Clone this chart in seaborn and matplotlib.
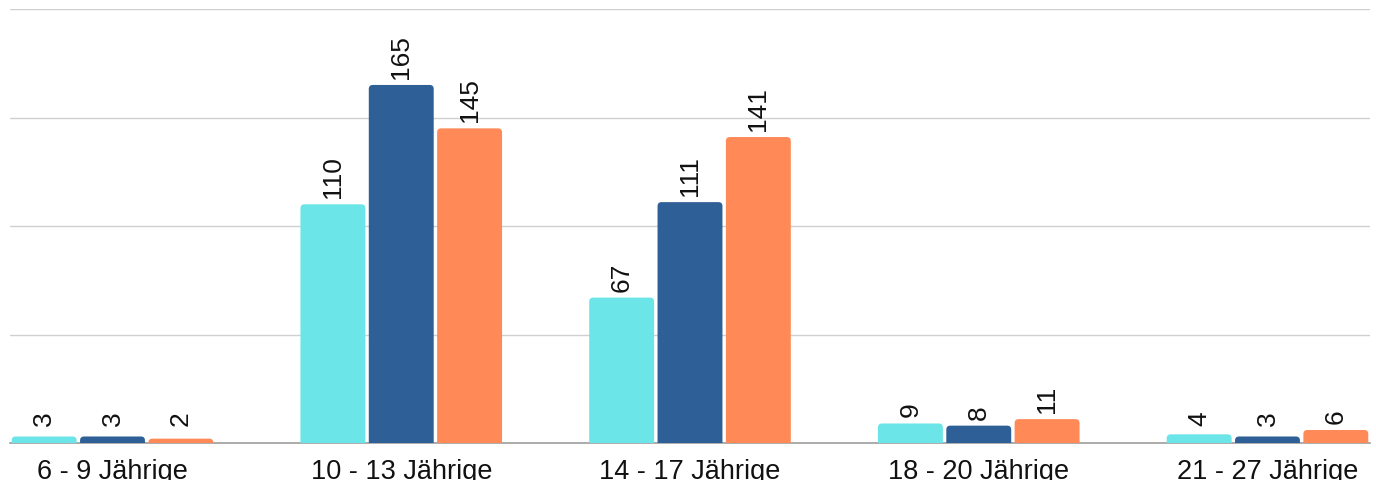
import matplotlib
matplotlib.use("Agg")
import pandas as pd
import seaborn as sns
import matplotlib.pyplot as plt
from matplotlib.patches import FancyBboxPatch

# Daten
CATEGORIES = ['6 - 9 Jährige', '10 - 13 Jährige', '14 - 17 Jährige',
              '18 - 20 Jährige', '21 - 27 Jährige']
SERIES = ['Reihe 1', 'Reihe 2', 'Reihe 3']
VALUES_1 = [3, 110, 67, 9, 4]
VALUES_2 = [3, 165, 111, 8, 3]
VALUES_3 = [2, 145, 141, 11, 6]
COLORS = ['#6be5e8', '#2e5f97', '#ff8957']


def build_frame():
    rows = []
    for name, vals in zip(SERIES, [VALUES_1, VALUES_2, VALUES_3]):
        for cat, v in zip(CATEGORIES, vals):
            rows.append({'Gruppe': cat, 'Reihe': name, 'Anzahl': v})
    return pd.DataFrame(rows)


def px_per_unit(ax):
    ax.figure.canvas.draw()
    bbox = ax.get_window_extent()
    x0, x1 = ax.get_xlim()
    y0, y1 = ax.get_ylim()
    return bbox.width / (x1 - x0), bbox.height / (y1 - y0)


def add_labels(ax, min_px=18, gap_px=7):
    # Werte senkrecht über den Balken, bei sehr kleinen Balken etwas höher
    _, px_y = px_per_unit(ax)
    dpi = ax.figure.dpi
    for cont in ax.containers:
        for rect in cont:
            h = rect.get_height()
            gap = max(gap_px, min_px - h * px_y)
            ax.annotate(f'{h:g}', (rect.get_x() + rect.get_width() / 2, h),
                        xytext=(0, gap * 72 / dpi), textcoords='offset points',
                        rotation=90, ha='center', va='bottom',
                        fontsize=19, color='#111111')


def round_bars(ax, radius_px=4):
    px_x, px_y = px_per_unit(ax)
    r = radius_px / px_x
    aspect = px_x / px_y
    for cont in ax.containers:
        for rect in cont:
            x, w, h = rect.get_x(), rect.get_width(), rect.get_height()
            fb = FancyBboxPatch((x, -3), w, h + 3,
                                boxstyle=f"round,pad=0,rounding_size={r}",
                                mutation_aspect=aspect,
                                fc=rect.get_facecolor(), ec='none', zorder=2)
            ax.add_patch(fb)
            rect.set_visible(False)


def main():
    df = build_frame()
    sns.set_style('white')
    plt.rcParams['font.family'] = ['Liberation Sans', 'DejaVu Sans']

    fig = plt.figure(figsize=(13.76, 4.81), dpi=100)
    ax = fig.add_axes([10 / 1376, 37 / 481, 1360 / 1376, 434 / 481])

    sns.barplot(data=df, x='Gruppe', y='Anzahl', hue='Reihe', order=CATEGORIES,
                hue_order=SERIES, palette=COLORS, saturation=1, width=0.71,
                gap=0.05, legend=False, ax=ax, zorder=2)

    ax.set_xlim(-0.355, 4.355)
    ax.set_ylim(0, 200)
    ax.set_yticks([0, 50, 100, 150, 200])
    ax.set_yticklabels([])
    ax.yaxis.grid(True, color='#d0d0d0', linewidth=1, zorder=0)
    ax.set_axisbelow(True)
    ax.tick_params(axis='both', length=0)
    ax.tick_params(axis='x', labelsize=19.5, pad=11, colors='#111111')
    ax.set_xlabel('')
    ax.set_ylabel('')
    for side in ['top', 'left', 'right']:
        ax.spines[side].set_visible(False)
    ax.spines['bottom'].set_color('#9e9e9e')
    ax.spines['bottom'].set_linewidth(1.2)
    ax.spines['bottom'].set_zorder(1.5)

    add_labels(ax)
    round_bars(ax)

    fig.savefig('out.png', dpi=100)


if __name__ == "__main__":
    main()
